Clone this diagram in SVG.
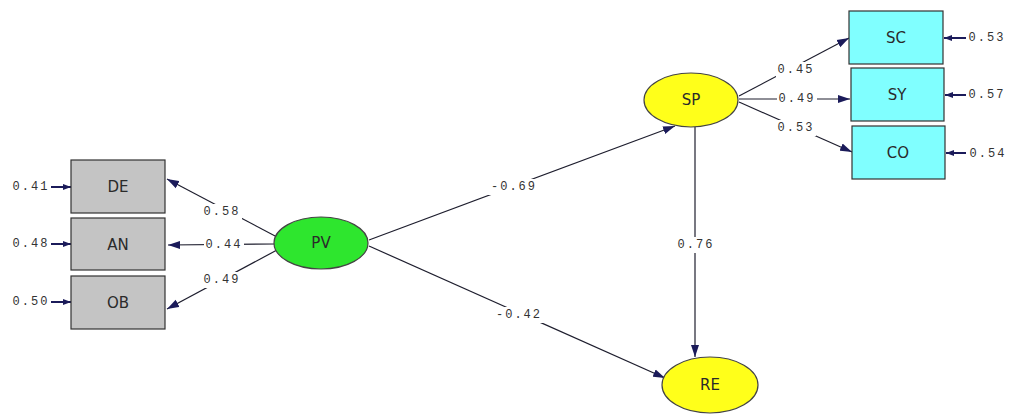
<svg xmlns="http://www.w3.org/2000/svg" width="1011" height="415" viewBox="0 0 1011 415">
<defs>
<marker id="ah" markerUnits="userSpaceOnUse" markerWidth="13" markerHeight="9" refX="12" refY="4.5" orient="auto">
<path d="M0,0.5 L12,4.5 L0,8.5 z" fill="#1b1b5a"/>
</marker>
<marker id="eh" markerUnits="userSpaceOnUse" markerWidth="9" markerHeight="7" refX="8" refY="3.5" orient="auto">
<path d="M0,0.5 L8,3.5 L0,6.5 z" fill="#1b1b5a"/>
</marker>
</defs>
<style>
.conn{stroke:#1e1e2e;stroke-width:1.2;fill:none}
.err{stroke:#1b1b5a;stroke-width:2;fill:none}
.bg{fill:#fff}
.num{font-family:"Liberation Mono","DejaVu Sans Mono",monospace;font-size:12px;letter-spacing:2px;fill:#333;text-anchor:middle;dominant-baseline:central}
.lbl{font-family:"DejaVu Sans",sans-serif;font-size:15px;fill:#2a2a2a;text-anchor:middle;dominant-baseline:central}
.gbox{fill:#c4c4c4;stroke:#333;stroke-width:1.2}
.cbox{fill:#80ffff;stroke:#333;stroke-width:1.2}
.yel{fill:#ffff1a;stroke:#444;stroke-width:1.2}
.grn{fill:#2ee62e;stroke:#444;stroke-width:1.2}
</style>
<rect width="1011" height="415" fill="#fff"/>
<g id="connectors">
<line class="conn" x1="277" y1="237" x2="167" y2="179" marker-end="url(#ah)"/>
<line class="conn" x1="275" y1="244" x2="168" y2="245" marker-end="url(#ah)"/>
<line class="conn" x1="277" y1="250" x2="167" y2="309" marker-end="url(#ah)"/>
<line class="conn" x1="369" y1="240" x2="675" y2="126" marker-end="url(#ah)"/>
<line class="conn" x1="369" y1="246" x2="665" y2="378" marker-end="url(#ah)"/>
<line class="conn" x1="695" y1="127" x2="695" y2="357" marker-end="url(#ah)"/>
<line class="conn" x1="739" y1="96" x2="849" y2="38" marker-end="url(#ah)"/>
<line class="conn" x1="739" y1="99" x2="850" y2="99" marker-end="url(#ah)"/>
<line class="conn" x1="739" y1="102" x2="852" y2="152" marker-end="url(#ah)"/>
<line class="err" x1="51" y1="187" x2="71" y2="187" marker-end="url(#eh)"/>
<line class="err" x1="51" y1="244" x2="71" y2="244" marker-end="url(#eh)"/>
<line class="err" x1="51" y1="302" x2="71" y2="302" marker-end="url(#eh)"/>
<line class="err" x1="966" y1="38" x2="944" y2="38" marker-end="url(#eh)"/>
<line class="err" x1="966" y1="95" x2="945" y2="95" marker-end="url(#eh)"/>
<line class="err" x1="966" y1="153" x2="946" y2="153" marker-end="url(#eh)"/>
<rect class="bg" x="202" y="204" width="40" height="16"/>
<rect class="bg" x="204" y="237" width="40" height="16"/>
<rect class="bg" x="202" y="272" width="40" height="16"/>
<rect class="bg" x="488" y="179" width="52" height="16"/>
<rect class="bg" x="494" y="307" width="50" height="16"/>
<rect class="bg" x="676" y="237" width="40" height="16"/>
<rect class="bg" x="776" y="62" width="40" height="16"/>
<rect class="bg" x="777" y="91" width="40" height="16"/>
<rect class="bg" x="776" y="120" width="40" height="16"/>
<text class="num" x="222" y="212">0.58</text>
<text class="num" x="224" y="245">0.44</text>
<text class="num" x="222" y="280">0.49</text>
<text class="num" x="514" y="187">-0.69</text>
<text class="num" x="519" y="315">-0.42</text>
<text class="num" x="696" y="245">0.76</text>
<text class="num" x="796" y="70">0.45</text>
<text class="num" x="797" y="99">0.49</text>
<text class="num" x="796" y="128">0.53</text>
<text class="num" x="31" y="187">0.41</text>
<text class="num" x="31" y="244">0.48</text>
<text class="num" x="31" y="302">0.50</text>
<text class="num" x="987" y="38">0.53</text>
<text class="num" x="987" y="95">0.57</text>
<text class="num" x="988" y="154">0.54</text>
</g>
<g id="DE"><rect class="gbox" x="71" y="160" width="94" height="53"/><text class="lbl" x="118" y="187">DE</text></g>
<g id="AN"><rect class="gbox" x="71" y="218" width="94" height="52"/><text class="lbl" x="118" y="245">AN</text></g>
<g id="OB"><rect class="gbox" x="71" y="276" width="94" height="53"/><text class="lbl" x="118" y="303">OB</text></g>
<g id="PV"><ellipse class="grn" cx="321" cy="243" rx="47" ry="26"/><text class="lbl" x="321" y="243">PV</text></g>
<g id="SP"><ellipse class="yel" cx="691" cy="100" rx="47" ry="27"/><text class="lbl" x="691" y="100">SP</text></g>
<g id="RE"><ellipse class="yel" cx="710" cy="385" rx="48" ry="28"/><text class="lbl" x="710" y="385">RE</text></g>
<g id="SC"><rect class="cbox" x="849" y="11" width="94" height="53"/><text class="lbl" x="896" y="38">SC</text></g>
<g id="SY"><rect class="cbox" x="851" y="68" width="93" height="53"/><text class="lbl" x="897" y="95">SY</text></g>
<g id="CO"><rect class="cbox" x="852" y="126" width="93" height="53"/><text class="lbl" x="898" y="153">CO</text></g>
</svg>
